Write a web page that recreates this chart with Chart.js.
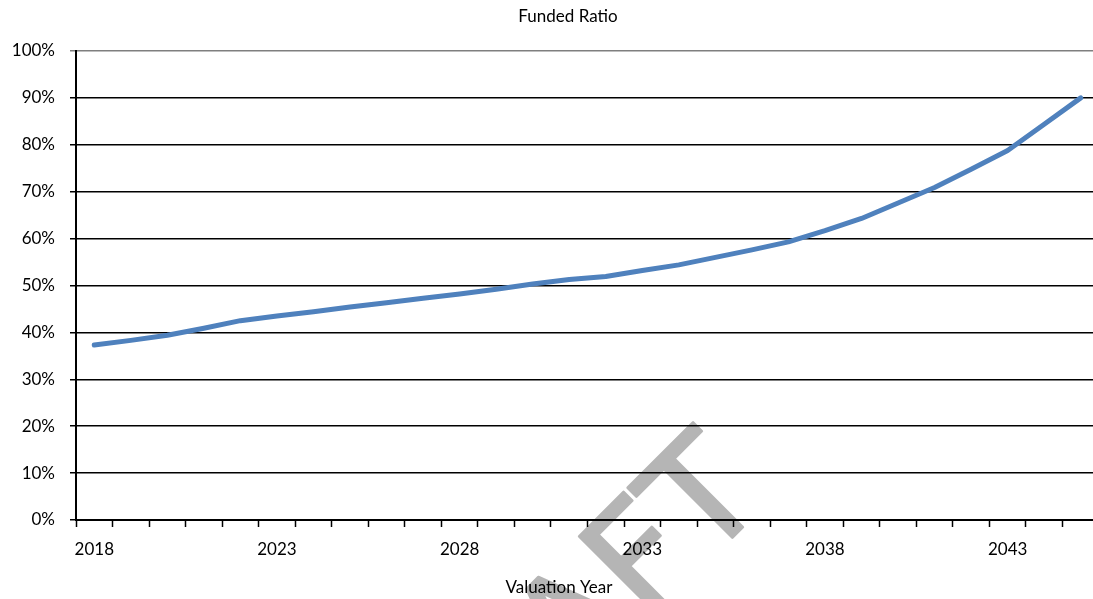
<!DOCTYPE html>
<html>
<head>
<meta charset="utf-8">
<script src="https://cdn.jsdelivr.net/npm/chart.js@4.4.0/dist/chart.umd.min.js"></script>
<style>
  html, body { margin: 0; padding: 0; background: #fff; overflow: hidden; }
  #wrap { width: 1099px; height: 599px; position: relative; }
</style>
</head>
<body>
<div id="wrap"><canvas id="fundedChart"></canvas></div>
<script>
// Valores
const years = ['2018', '2019', '2020', '2021', '2022', '2023', '2024', '2025', '2026', '2027',
               '2028', '2029', '2030', '2031', '2032', '2033', '2034', '2035', '2036', '2037',
               '2038', '2039', '2040', '2041', '2042', '2043', '2044', '2045'];
const fundedRatio = [37.3, 38.3, 39.4, 40.9, 42.5, 43.5, 44.4, 45.4, 46.3, 47.3,
                     48.2, 49.2, 50.3, 51.3, 51.9, 53.2, 54.4, 56.0, 57.6, 59.3,
                     61.7, 64.3, 67.6, 70.9, 74.8, 78.8, 84.4, 90.0];
const yearLabels = ['2018', '2023', '2028', '2033', '2038', '2043'];
const chartTitle = 'Funded Ratio';
const xTitle = 'Valuation Year';
const watermark = 'DRAFT';

const FONT = 'Lato, "Open Sans", sans-serif';

// Fundo branco, marca d'água e títulos
const decorPlugin = {
    id: 'decor',
    beforeDraw(chart) {
        const ctx = chart.ctx;
        ctx.save();
        ctx.fillStyle = '#ffffff';
        ctx.fillRect(0, 0, chart.width, chart.height);
        // marca d'água "DRAFT" inclinada
        ctx.translate(770, 500);
        ctx.rotate(-Math.PI / 4);
        ctx.font = '150px "DejaVu Sans"';
        ctx.textAlign = 'right';
        ctx.textBaseline = 'alphabetic';
        ctx.fillStyle = '#b5b5b5';
        ctx.strokeStyle = '#b5b5b5';
        ctx.lineWidth = 2.5;
        ctx.lineJoin = 'round';
        ctx.fillText(watermark, 0, 0);
        ctx.strokeText(watermark, 0, 0);
        ctx.restore();
    },
    afterDraw(chart) {
        const ctx = chart.ctx;
        ctx.save();
        ctx.fillStyle = '#000';
        ctx.font = '17px ' + FONT;
        ctx.textAlign = 'center';
        ctx.textBaseline = 'middle';
        ctx.fillText(chartTitle, 568, 17);
        ctx.fillText(xTitle, 559, 588);
        ctx.restore();
    }
};

const ctx = document.getElementById('fundedChart').getContext('2d');

new Chart(ctx, {
    type: 'line',
    data: {
        labels: years,
        datasets: [{
            label: chartTitle,
            data: fundedRatio,
            borderColor: '#4F81BD',
            backgroundColor: '#4F81BD',
            borderWidth: 5,
            borderCapStyle: 'round',
            borderJoinStyle: 'round',
            pointRadius: 0,
            tension: 0,
            fill: false
        }]
    },
    options: {
        responsive: true,
        maintainAspectRatio: false,
        animation: false,
        layout: { padding: { top: 51, left: 0, right: 0, bottom: 0 } },
        plugins: {
            legend: { display: false },
            title: { display: false },
            tooltip: { enabled: false }
        },
        scales: {
            x: {
                offset: true,
                grid: {
                    offset: true,
                    drawOnChartArea: false,
                    drawTicks: true,
                    tickLength: 7,
                    tickColor: '#000',
                    tickWidth: 1.5
                },
                border: { color: '#000', width: 2 },
                ticks: {
                    autoSkip: false,
                    maxRotation: 0,
                    padding: 12,
                    color: '#000',
                    font: { family: FONT, size: 17 },
                    callback: function(value) {
                        const lbl = this.getLabelForValue(value);
                        return yearLabels.includes(lbl) ? lbl : '';
                    }
                },
                afterFit(scale) { scale.height = 79; }
            },
            y: {
                min: 0,
                max: 100,
                grid: {
                    color: (c) => (c.tick && c.tick.value === 100 ? '#7f7f7f' : '#000'),
                    lineWidth: 1.5,
                    tickLength: 6
                },
                border: { color: '#000', width: 2 },
                ticks: {
                    stepSize: 10,
                    padding: 15,
                    color: '#000',
                    font: { family: FONT, size: 17 },
                    callback: (v) => v + '%'
                },
                afterFit(scale) { scale.width = 76; }
            }
        }
    },
    plugins: [decorPlugin]
});
</script>
</body>
</html>
